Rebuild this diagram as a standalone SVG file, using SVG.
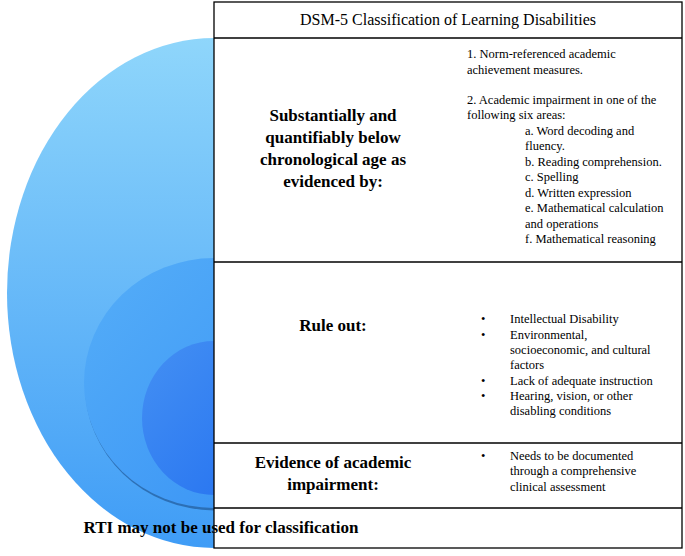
<svg xmlns="http://www.w3.org/2000/svg" width="685" height="556" viewBox="0 0 685 556">
<style>
.t{font-family:"Liberation Serif",serif;font-size:12.5px;fill:#000}
.b{font-family:"Liberation Serif",serif;font-size:17px;font-weight:bold;fill:#000;text-anchor:middle}
.ln{stroke:#000;stroke-width:1.3;fill:none}
</style>
<defs>
<linearGradient id="g1" x1="0" y1="0" x2="0" y2="1"><stop offset="0" stop-color="#8fd6fb"/><stop offset="1" stop-color="#3f9cf6"/></linearGradient>
<linearGradient id="g2" x1="0" y1="0" x2="1" y2="1"><stop offset="0" stop-color="#55aef8"/><stop offset="1" stop-color="#3690f5"/></linearGradient>
<linearGradient id="g3" x1="0" y1="0" x2="1" y2="1"><stop offset="0" stop-color="#4490f3"/><stop offset="1" stop-color="#2370f0"/></linearGradient>
<clipPath id="c"><rect x="0" y="0" width="214" height="556"/></clipPath>
</defs>
<g id="circles" clip-path="url(#c)">
<ellipse cx="214" cy="293" rx="207" ry="255" fill="url(#g1)"/>
<ellipse cx="214" cy="384" rx="130" ry="125" fill="#1a4f8a" opacity="0.6" transform="translate(1,1.5)"/>
<ellipse cx="214" cy="383" rx="130" ry="125" fill="url(#g2)"/>
<ellipse cx="214" cy="418" rx="72" ry="77" fill="url(#g3)"/>
</g>
<g id="table">
<rect x="214" y="2" width="468" height="546" class="ln"/>
<line x1="214" y1="38" x2="682" y2="38" class="ln"/>
<line x1="214" y1="262" x2="682" y2="262" class="ln"/>
<line x1="214" y1="443" x2="682" y2="443" class="ln"/>
<line x1="214" y1="508" x2="682" y2="508" class="ln"/>
</g>
<g id="title"><text x="448" y="25" class="t" style="font-size:16px" text-anchor="middle">DSM-5 Classification of Learning Disabilities</text></g>
<g id="row1">
<text class="b" x="333" y="121">Substantially and</text>
<text class="b" x="333" y="143">quantifiably below</text>
<text class="b" x="333" y="165">chronological age as</text>
<text class="b" x="333" y="187">evidenced by:</text>
<text class="t" x="467" y="58">1. Norm-referenced academic</text>
<text class="t" x="467" y="74">achievement measures.</text>
<text class="t" x="467" y="104">2. Academic impairment in one of the</text>
<text class="t" x="467" y="119">following six areas:</text>
<text class="t" x="525" y="135">a. Word decoding and</text>
<text class="t" x="525" y="150">fluency.</text>
<text class="t" x="525" y="166">b. Reading comprehension.</text>
<text class="t" x="525" y="181">c. Spelling</text>
<text class="t" x="525" y="197">d. Written expression</text>
<text class="t" x="525" y="212">e. Mathematical calculation</text>
<text class="t" x="525" y="228">and operations</text>
<text class="t" x="525" y="243">f. Mathematical reasoning</text>
</g>
<g id="row2">
<text class="b" x="333" y="331">Rule out:</text>
<text class="t" x="481" y="323">•</text><text class="t" x="510" y="323">Intellectual Disability</text>
<text class="t" x="481" y="339">•</text><text class="t" x="510" y="339">Environmental,</text>
<text class="t" x="510" y="354">socioeconomic, and cultural</text>
<text class="t" x="510" y="369">factors</text>
<text class="t" x="481" y="385">•</text><text class="t" x="510" y="385">Lack of adequate instruction</text>
<text class="t" x="481" y="400">•</text><text class="t" x="510" y="400">Hearing, vision, or other</text>
<text class="t" x="510" y="415">disabling conditions</text>
</g>
<g id="row3">
<text class="b" x="333" y="468">Evidence of academic</text>
<text class="b" x="333" y="490">impairment:</text>
<text class="t" x="481" y="460">•</text><text class="t" x="510" y="460">Needs to be documented</text>
<text class="t" x="510" y="475">through a comprehensive</text>
<text class="t" x="510" y="491">clinical assessment</text>
</g>
<g id="row4"><text class="b" x="221" y="533" text-anchor="start">RTI may not be used for classification</text></g>
</svg>
